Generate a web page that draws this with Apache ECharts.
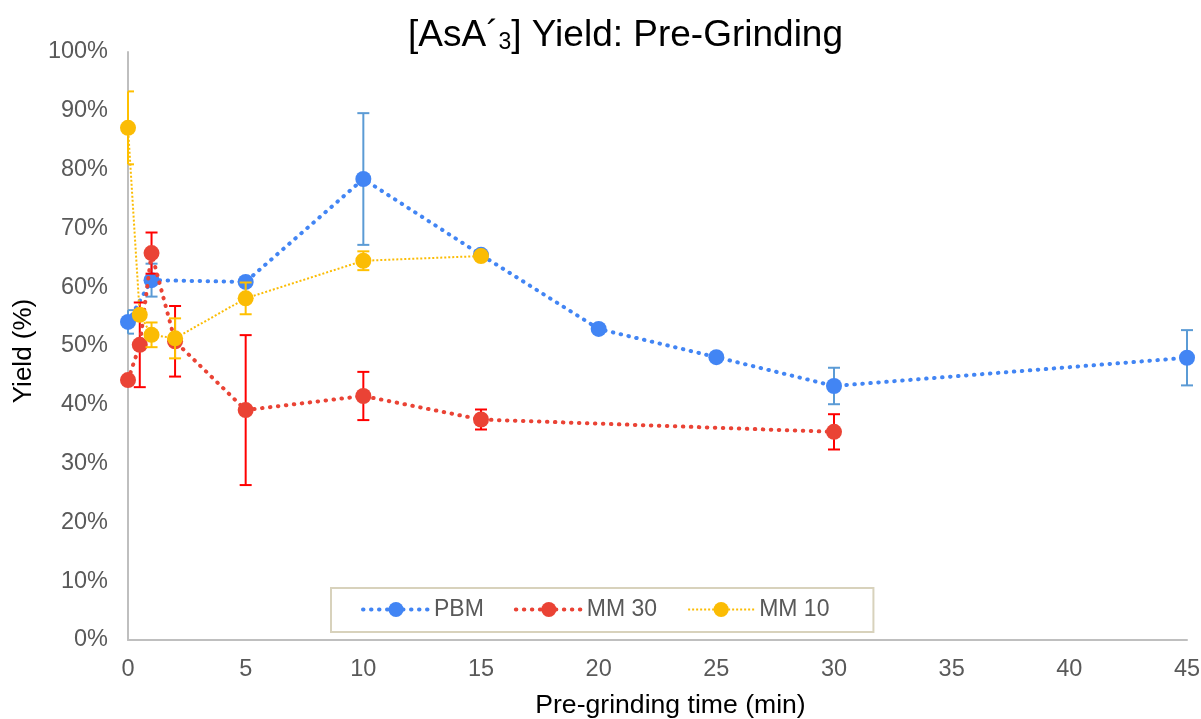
<!DOCTYPE html>
<html>
<head>
<meta charset="utf-8">
<script src="https://cdn.jsdelivr.net/npm/echarts@6/dist/echarts.min.js"></script>
<style>
  html, body { margin: 0; padding: 0; background: #fff; }
  #chart { width: 1201px; height: 719px; }
</style>
</head>
<body>
<div id="chart"></div>
<script>
// Pre-grinding time (min) and yield (%) with ± error for each milling method
const pbmTime   = [0, 1, 5, 10, 15, 20, 25, 30, 45];
const pbmYield  = [54.1, 61.2, 60.9, 78.4, 65.5, 52.9, 48.1, 43.2, 48.0];
const pbmErr    = [2.0, 2.8, 0, 11.2, 0, 0, 0, 3.1, 4.7];

const mm30Time  = [0, 0.5, 1, 2, 5, 10, 15, 30];
const mm30Yield = [44.2, 50.2, 65.8, 50.8, 39.1, 41.5, 37.5, 35.4];
const mm30Err   = [0, 7.2, 3.5, 6.0, 12.75, 4.1, 1.7, 3.0];

const mm10Time  = [0, 0.5, 1, 2, 5, 10, 15];
const mm10Yield = [87.1, 55.3, 51.9, 51.3, 58.1, 64.5, 65.3];
const mm10Err   = [6.2, 0, 2.1, 3.4, 2.7, 1.6, 0];

const FONT = "'Liberation Sans', Arial, sans-serif";
const GREY = '#595959';

function points(xs, ys) { return xs.map((x, i) => [x, ys[i]]); }
function errPoints(xs, ys, es) { return xs.map((x, i) => [x, ys[i], es[i]]); }

// Vertical error bar with caps; caps stop at the left edge of the plot
function errorBarRenderer(color) {
  return function (params, api) {
    const x = api.value(0), y = api.value(1), e = api.value(2);
    if (!e) return null;
    const hi = api.coord([x, y + e]);
    const lo = api.coord([x, y - e]);
    const cs = params.coordSys;
    const half = 6;
    const l = Math.max(hi[0] - half, cs.x);
    const r = hi[0] + half;
    const style = { stroke: color, lineWidth: 2, fill: null };
    return {
      type: 'group',
      children: [
        { type: 'line', shape: { x1: hi[0], y1: hi[1], x2: lo[0], y2: lo[1] }, style },
        { type: 'line', shape: { x1: l, y1: hi[1], x2: r, y2: hi[1] }, style },
        { type: 'line', shape: { x1: l, y1: lo[1], x2: r, y2: lo[1] }, style }
      ]
    };
  };
}

function lineSeries(name, data, color, lineStyle, z) {
  return {
    name, type: 'line', data, z,
    symbol: 'circle', symbolSize: 16,
    itemStyle: { color },
    lineStyle: Object.assign({ color }, lineStyle),
    emphasis: { disabled: true },
    animation: false
  };
}

function errSeries(data, color, z) {
  return {
    type: 'custom', data, z,
    renderItem: errorBarRenderer(color),
    encode: { x: 0, y: 1 },
    clip: false,
    silent: true,
    animation: false
  };
}

const BLUE_LINE = { width: 4, type: [0.5, 7.5], cap: 'round' };
const RED_LINE = { width: 4, type: [0.5, 7.5], cap: 'round' };
const YELLOW_LINE = { width: 2, type: [2, 2] };

const chart = echarts.init(document.getElementById('chart'), null, { renderer: 'canvas' });

chart.setOption({
  backgroundColor: '#ffffff',
  textStyle: { fontFamily: FONT },
  title: {
    text: '[AsA´{sub|3}] Yield: Pre-Grinding',
    left: 403,
    top: 12,
    textStyle: {
      fontFamily: FONT, fontSize: 37, fontWeight: 'normal', color: '#000000',
      rich: {
        sub: { fontFamily: FONT, fontSize: 23, color: '#000000', verticalAlign: 'bottom', padding: [14, 0, 0, 0] }
      }
    }
  },
  legend: {
    left: 331, top: 588,
    orient: 'horizontal',
    backgroundColor: '#ffffff',
    borderColor: '#D8D2BC',
    borderWidth: 2,
    borderRadius: 0,
    padding: [10, 44, 11, 30],
    itemWidth: 66,
    itemHeight: 19,
    itemGap: 30,
    textStyle: { fontFamily: FONT, fontSize: 23, color: GREY },
    data: [
      { name: 'PBM', lineStyle: BLUE_LINE },
      { name: 'MM 30', lineStyle: RED_LINE },
      { name: 'MM 10', lineStyle: YELLOW_LINE }
    ]
  },
  grid: { left: 128, right: 14, top: 52, bottom: 79, outerBoundsMode: 'none', containLabel: false },
  xAxis: {
    type: 'value', min: 0, max: 45, interval: 5,
    name: 'Pre-grinding time (min)',
    nameLocation: 'middle', nameGap: 52,
    nameTextStyle: { fontFamily: FONT, fontSize: 26.6, color: '#000000', padding: [0, 0, 0, 26] },
    axisLine: { show: true, lineStyle: { color: '#BFBFBF', width: 2 } },
    axisTick: { show: false },
    splitLine: { show: false },
    axisLabel: { fontFamily: FONT, fontSize: 23.5, color: GREY, margin: 18 }
  },
  yAxis: {
    type: 'value', min: 0, max: 100, interval: 10,
    name: 'Yield (%)',
    nameLocation: 'middle', nameGap: 90, nameRotate: 90,
    nameTextStyle: { fontFamily: FONT, fontSize: 26, color: '#000000', padding: [0, 10, 0, 0] },
    axisLine: { show: true, lineStyle: { color: '#BFBFBF', width: 2 } },
    axisTick: { show: false },
    splitLine: { show: false },
    axisLabel: { fontFamily: FONT, fontSize: 23.5, color: GREY, margin: 20, formatter: '{value}%' }
  },
  series: [
    errSeries(errPoints(pbmTime, pbmYield, pbmErr), '#5B9BD5', 1),
    lineSeries('PBM', points(pbmTime, pbmYield), '#4285F4', BLUE_LINE, 2),
    errSeries(errPoints(mm30Time, mm30Yield, mm30Err), '#FF0000', 3),
    lineSeries('MM 30', points(mm30Time, mm30Yield), '#EA4335', RED_LINE, 4),
    errSeries(errPoints(mm10Time, mm10Yield, mm10Err), '#FFC000', 5),
    lineSeries('MM 10', points(mm10Time, mm10Yield), '#FBBC04', YELLOW_LINE, 6)
  ]
});
</script>
</body>
</html>
